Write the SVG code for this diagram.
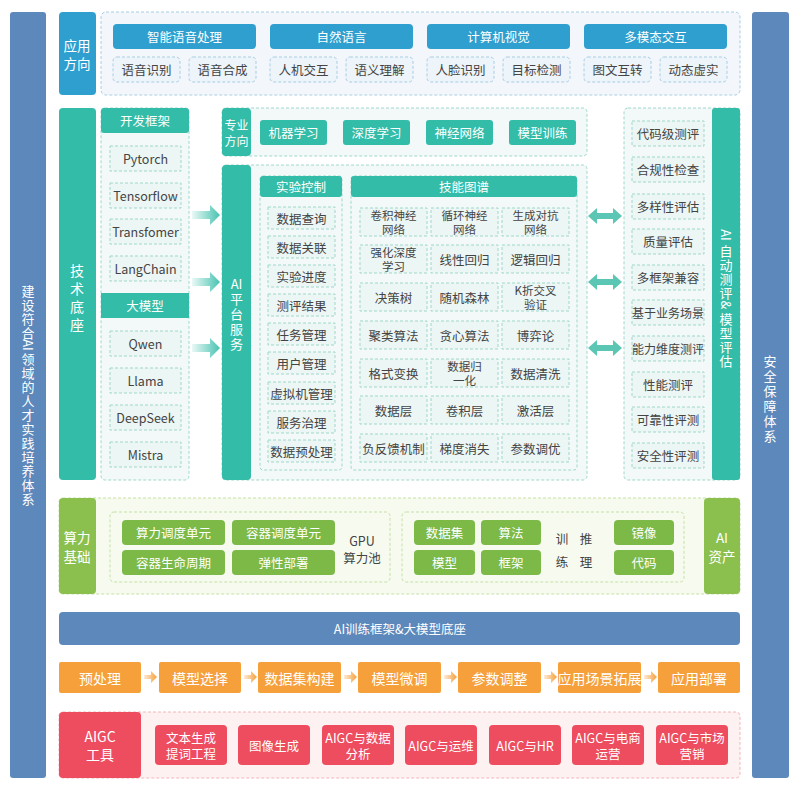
<svg xmlns="http://www.w3.org/2000/svg" width="800" height="797" viewBox="0 0 800 797">
<defs>
<style>
text{font-family:"Noto Sans CJK SC","Noto Sans",sans-serif;font-size:12.5px;text-anchor:middle;dominant-baseline:central}
.w{fill:#fff}.d{fill:#444}
.bl{fill:#2e9fcf}.tl{fill:#33bca8}.gr{fill:#8cc04e}.gi{fill:#7cb947}.or{fill:#f6a03b}.rd{fill:#ee4c5f}.bb{fill:#5d88bb}
.cb{fill:#f3f7fb;stroke:#a8cde4;stroke-dasharray:3 2}
.sb{fill:#edf4fa;stroke:#a8cde4;stroke-dasharray:3 2}
.ct{fill:#f2f9f8;stroke:#9fd8cc;stroke-dasharray:3 2}
.st{fill:#ecf6f4;stroke:#9fd8cc;stroke-dasharray:3 2}
.cg{fill:#f6faef;stroke:#c6e1a6;stroke-dasharray:3 2}
.cr{fill:#fdf1f1;stroke:#f4b5bc;stroke-dasharray:3 2}
.s2{font-size:11.5px}
</style>
<linearGradient id="ga" x1="0" x2="1"><stop offset="0" stop-color="#33bca8" stop-opacity="0.1"/><stop offset="1" stop-color="#33bca8" stop-opacity="0.9"/></linearGradient>
<linearGradient id="go" x1="0" x2="1"><stop offset="0" stop-color="#f6a03b" stop-opacity="0.2"/><stop offset="1" stop-color="#f6a03b"/></linearGradient>
</defs>
<rect width="800" height="797" fill="#fff"/>
<g id="left-bar"><rect x="10" y="12" width="36" height="766" rx="3" class="bb"/>
<g class="w" style="font-size:13px">
<text x="28" y="290" style="font-size:13px">建</text><text x="28" y="304" style="font-size:13px">设</text><text x="28" y="318" style="font-size:13px">符</text><text x="28" y="332" style="font-size:13px">合</text>
<text x="28" y="345" transform="rotate(90 28 345)" style="font-size:13px">AI</text>
<text x="28" y="358" style="font-size:13px">领</text><text x="28" y="372" style="font-size:13px">域</text><text x="28" y="386" style="font-size:13px">的</text><text x="28" y="400" style="font-size:13px">人</text>
<text x="28" y="414" style="font-size:13px">才</text><text x="28" y="428" style="font-size:13px">实</text><text x="28" y="442" style="font-size:13px">践</text><text x="28" y="456" style="font-size:13px">培</text>
<text x="28" y="470" style="font-size:13px">养</text><text x="28" y="484" style="font-size:13px">体</text><text x="28" y="498" style="font-size:13px">系</text>
</g></g>
<g id="right-bar"><rect x="752" y="12" width="37" height="766" rx="3" class="bb"/>
<g class="w">
<text x="770" y="360" style="font-size:13px">安</text><text x="770" y="375" style="font-size:13px">全</text><text x="770" y="390" style="font-size:13px">保</text>
<text x="770" y="405" style="font-size:13px">障</text><text x="770" y="420" style="font-size:13px">体</text><text x="770" y="435" style="font-size:13px">系</text>
</g></g>

<g id="app">
<rect x="59" y="12" width="37" height="83" rx="4" class="bl"/>
<text class="w" x="77" y="45" style="font-size:13.5px">应用</text><text class="w" x="77" y="63" style="font-size:13.5px">方向</text>
<rect x="101" y="12" width="639" height="83" rx="5" class="cb"/>
<g><rect x="113" y="24" width="143" height="25" rx="4" class="bl"/><text class="w" x="184.5" y="36.5">智能语音处理</text>
<rect x="113" y="57" width="67" height="25" rx="4" class="sb"/><text class="d" x="146.5" y="69.5">语音识别</text>
<rect x="189" y="57" width="67" height="25" rx="4" class="sb"/><text class="d" x="222.5" y="69.5">语音合成</text></g>
<g><rect x="270" y="24" width="143" height="25" rx="4" class="bl"/><text class="w" x="341.5" y="36.5">自然语言</text>
<rect x="270" y="57" width="67" height="25" rx="4" class="sb"/><text class="d" x="303.5" y="69.5">人机交互</text>
<rect x="346" y="57" width="67" height="25" rx="4" class="sb"/><text class="d" x="379.5" y="69.5">语义理解</text></g>
<g><rect x="427" y="24" width="143" height="25" rx="4" class="bl"/><text class="w" x="498.5" y="36.5">计算机视觉</text>
<rect x="427" y="57" width="67" height="25" rx="4" class="sb"/><text class="d" x="460.5" y="69.5">人脸识别</text>
<rect x="503" y="57" width="67" height="25" rx="4" class="sb"/><text class="d" x="536.5" y="69.5">目标检测</text></g>
<g><rect x="584" y="24" width="143" height="25" rx="4" class="bl"/><text class="w" x="655.5" y="36.5">多模态交互</text>
<rect x="584" y="57" width="67" height="25" rx="4" class="sb"/><text class="d" x="617.5" y="69.5">图文互转</text>
<rect x="660" y="57" width="67" height="25" rx="4" class="sb"/><text class="d" x="693.5" y="69.5">动态虚实</text></g>
</g>

<g id="tech">
<rect x="59" y="108" width="37" height="372" rx="4" class="tl"/>
<text class="w" x="77" y="270" style="font-size:14px">技</text><text class="w" x="77" y="288" style="font-size:14px">术</text>
<text class="w" x="77" y="306" style="font-size:14px">底</text><text class="w" x="77" y="324" style="font-size:14px">座</text>
<rect x="101" y="108" width="88" height="372" rx="4" class="ct"/>
<rect x="101" y="108" width="88" height="25" rx="3" class="tl"/><text class="w" x="145" y="120.5">开发框架</text>
<rect x="110" y="146" width="71" height="25" class="st"/><text class="d" x="145.5" y="158.5">Pytorch</text>
<rect x="110" y="183" width="71" height="25" class="st"/><text class="d" x="145.5" y="195.5">Tensorflow</text>
<rect x="110" y="219" width="71" height="25" class="st"/><text class="d" x="145.5" y="231.5">Transfomer</text>
<rect x="110" y="256" width="71" height="25" class="st"/><text class="d" x="145.5" y="268.5">LangChain</text>
<rect x="101" y="293" width="88" height="25" class="tl"/><text class="w" x="145" y="305.5">大模型</text>
<rect x="110" y="331" width="71" height="25" class="st"/><text class="d" x="145.5" y="343.5">Qwen</text>
<rect x="110" y="368" width="71" height="25" class="st"/><text class="d" x="145.5" y="380.5">Llama</text>
<rect x="110" y="405" width="71" height="25" class="st"/><text class="d" x="145.5" y="417.5">DeepSeek</text>
<rect x="110" y="442" width="71" height="25" class="st"/><text class="d" x="145.5" y="454.5">Mistra</text>
</g>

<g id="major">
<rect x="222" y="108" width="365" height="48" rx="4" class="ct"/>
<rect x="222" y="108" width="29" height="48" rx="4" class="tl"/>
<text class="w" x="236.5" y="124" style="font-size:12px">专业</text><text class="w" x="236.5" y="140" style="font-size:12px">方向</text>
<rect x="260" y="120" width="67" height="25" rx="3" class="tl"/><text class="w" x="293.5" y="132.5">机器学习</text>
<rect x="343" y="120" width="67" height="25" rx="3" class="tl"/><text class="w" x="376.5" y="132.5">深度学习</text>
<rect x="426" y="120" width="67" height="25" rx="3" class="tl"/><text class="w" x="459.5" y="132.5">神经网络</text>
<rect x="509" y="120" width="67" height="25" rx="3" class="tl"/><text class="w" x="542.5" y="132.5">模型训练</text>
</g>

<g id="platform">
<rect x="222" y="165" width="365" height="315" rx="4" class="ct"/>
<rect x="222" y="165" width="29" height="315" rx="4" class="tl"/>
<text class="w" x="236.5" y="283" style="font-size:13px">AI</text>
<text class="w" x="236.5" y="298" style="font-size:13px">平</text><text class="w" x="236.5" y="313" style="font-size:13px">台</text>
<text class="w" x="236.5" y="328" style="font-size:13px">服</text><text class="w" x="236.5" y="343" style="font-size:13px">务</text>
<rect x="260" y="176" width="82" height="294" rx="3" class="ct"/>
<rect x="260" y="176" width="82" height="21" rx="3" class="tl"/><text class="w" x="301" y="186.5">实验控制</text>
<g class="st">
<rect x="268" y="207" width="67" height="22"/><rect x="268" y="236" width="67" height="22"/><rect x="268" y="265" width="67" height="22"/>
<rect x="268" y="294" width="67" height="22"/><rect x="268" y="323" width="67" height="22"/><rect x="268" y="352" width="67" height="22"/>
<rect x="268" y="382" width="67" height="22"/><rect x="268" y="411" width="67" height="22"/><rect x="268" y="440" width="67" height="22"/>
</g>
<g class="d">
<text x="301.5" y="218">数据查询</text><text x="301.5" y="247">数据关联</text><text x="301.5" y="276">实验进度</text>
<text x="301.5" y="305">测评结果</text><text x="301.5" y="334">任务管理</text><text x="301.5" y="363">用户管理</text>
<text x="301.5" y="393">虚拟机管理</text><text x="301.5" y="422">服务治理</text><text x="301.5" y="451">数据预处理</text>
</g>
<rect x="351" y="176" width="226" height="294" rx="3" class="ct"/>
<rect x="351" y="176" width="226" height="21" rx="3" class="tl"/><text class="w" x="464" y="186.5">技能图谱</text>
<g class="st">
<rect x="360" y="208" width="67" height="28"/><rect x="431" y="208" width="67" height="28"/><rect x="502" y="208" width="67" height="28"/>
<rect x="360" y="245" width="67" height="28"/><rect x="431" y="245" width="67" height="28"/><rect x="502" y="245" width="67" height="28"/>
<rect x="360" y="283" width="67" height="28"/><rect x="431" y="283" width="67" height="28"/><rect x="502" y="283" width="67" height="28"/>
<rect x="360" y="321" width="67" height="28"/><rect x="431" y="321" width="67" height="28"/><rect x="502" y="321" width="67" height="28"/>
<rect x="360" y="359" width="67" height="28"/><rect x="431" y="359" width="67" height="28"/><rect x="502" y="359" width="67" height="28"/>
<rect x="360" y="396" width="67" height="28"/><rect x="431" y="396" width="67" height="28"/><rect x="502" y="396" width="67" height="28"/>
<rect x="360" y="434" width="67" height="28"/><rect x="431" y="434" width="67" height="28"/><rect x="502" y="434" width="67" height="28"/>
</g>
<g class="d">
<text class="s2" x="393.5" y="215">卷积神经</text><text class="s2" x="393.5" y="229">网络</text>
<text class="s2" x="464.5" y="215">循环神经</text><text class="s2" x="464.5" y="229">网络</text>
<text class="s2" x="535.5" y="215">生成对抗</text><text class="s2" x="535.5" y="229">网络</text>
<text class="s2" x="393.5" y="252">强化深度</text><text class="s2" x="393.5" y="266">学习</text>
<text x="464.5" y="259">线性回归</text><text x="535.5" y="259">逻辑回归</text>
<text x="393.5" y="297">决策树</text><text x="464.5" y="297">随机森林</text>
<text class="s2" x="535.5" y="290">K折交叉</text><text class="s2" x="535.5" y="304">验证</text>
<text x="393.5" y="335">聚类算法</text><text x="464.5" y="335">贪心算法</text><text x="535.5" y="335">博弈论</text>
<text x="393.5" y="373">格式变换</text>
<text class="s2" x="464.5" y="366">数据归</text><text class="s2" x="464.5" y="380">一化</text>
<text x="535.5" y="373">数据清洗</text>
<text x="393.5" y="410">数据层</text><text x="464.5" y="410">卷积层</text><text x="535.5" y="410">激活层</text>
<text x="393.5" y="448">负反馈机制</text><text x="464.5" y="448">梯度消失</text><text x="535.5" y="448">参数调优</text>
</g>
</g>

<g id="eval">
<rect x="624" y="108" width="116" height="372" rx="4" class="ct"/>
<rect x="712" y="108" width="28" height="372" rx="3" class="tl"/>
<g class="w">
<text x="726" y="235" transform="rotate(90 726 235)" style="font-size:13px">AI</text>
<text x="726" y="250" style="font-size:13px">自</text><text x="726" y="264" style="font-size:13px">动</text><text x="726" y="278" style="font-size:13px">测</text>
<text x="726" y="292" style="font-size:13px">评</text><text x="726" y="305" transform="rotate(90 726 305)" style="font-size:13px">&amp;</text>
<text x="726" y="318" style="font-size:13px">模</text><text x="726" y="332" style="font-size:13px">型</text><text x="726" y="346" style="font-size:13px">评</text>
<text x="726" y="360" style="font-size:13px">估</text>
</g>
<g class="st">
<rect x="632" y="121" width="72" height="25"/><rect x="632" y="157" width="72" height="25"/><rect x="632" y="194" width="72" height="25"/>
<rect x="632" y="229" width="72" height="25"/><rect x="632" y="265" width="72" height="25"/><rect x="632" y="300" width="72" height="25"/>
<rect x="632" y="336" width="72" height="25"/><rect x="632" y="372" width="72" height="25"/><rect x="632" y="407" width="72" height="25"/>
<rect x="632" y="443" width="72" height="25"/>
</g>
<g class="d">
<text x="668" y="133.5">代码级测评</text><text x="668" y="169.5">合规性检查</text><text x="668" y="206.5">多样性评估</text>
<text x="668" y="241.5">质量评估</text><text x="668" y="277.5">多框架兼容</text><text x="668" y="312.5" style="font-size:12px">基于业务场景</text>
<text x="668" y="348.5" style="font-size:12px">能力维度测评</text><text x="668" y="384.5">性能测评</text><text x="668" y="419.5">可靠性评测</text>
<text x="668" y="455.5">安全性评测</text>
</g>
</g>

<g id="connectors">
<g fill="url(#ga)">
<path d="M192 211h18v-6l10 10-10 10v-6h-18z"/>
<path d="M192 278h18v-6l10 10-10 10v-6h-18z"/>
<path d="M192 344h18v-6l10 10-10 10v-6h-18z"/>
</g>
<g fill="#5cc6b4">
<path d="M588 216l9-8v5h16v-5l9 8-9 8v-5h-16v5z"/>
<path d="M588 282l9-8v5h16v-5l9 8-9 8v-5h-16v5z"/>
<path d="M588 348l9-8v5h16v-5l9 8-9 8v-5h-16v5z"/>
</g>
<g fill="url(#go)">
<path d="M144 675h7v-4l6 6-6 6v-4h-7z"/>
<path d="M244 675h7v-4l6 6-6 6v-4h-7z"/>
<path d="M344 675h7v-4l6 6-6 6v-4h-7z"/>
<path d="M444 675h7v-4l6 6-6 6v-4h-7z"/>
<path d="M544 675h7v-4l6 6-6 6v-4h-7z"/>
<path d="M644 675h7v-4l6 6-6 6v-4h-7z"/>
</g>
</g>

<g id="compute">
<rect x="59" y="498" width="681" height="96" rx="4" class="cg"/>
<rect x="59" y="498" width="37" height="96" rx="4" class="gr"/>
<text class="w" x="77" y="537" style="font-size:13.5px">算力</text><text class="w" x="77" y="556" style="font-size:13.5px">基础</text>
<rect x="704" y="498" width="36" height="96" rx="4" class="gr"/>
<text class="w" x="722" y="537" style="font-size:13.5px">AI</text><text class="w" x="722" y="556" style="font-size:13.5px">资产</text>
<rect x="110" y="512" width="280" height="70" rx="4" class="cg"/>
<rect x="122" y="520" width="103" height="25" rx="4" class="gi"/><text class="w" x="173.5" y="532.5">算力调度单元</text>
<rect x="232" y="520" width="103" height="25" rx="4" class="gi"/><text class="w" x="283.5" y="532.5">容器调度单元</text>
<rect x="122" y="550" width="103" height="25" rx="4" class="gi"/><text class="w" x="173.5" y="562.5">容器生命周期</text>
<rect x="232" y="550" width="103" height="25" rx="4" class="gi"/><text class="w" x="283.5" y="562.5">弹性部署</text>
<text class="d" x="362" y="540">GPU</text><text class="d" x="362" y="557">算力池</text>
<rect x="402" y="512" width="282" height="70" rx="4" class="cg"/>
<rect x="414" y="520" width="61" height="25" rx="4" class="gi"/><text class="w" x="444.5" y="532.5">数据集</text>
<rect x="481" y="520" width="60" height="25" rx="4" class="gi"/><text class="w" x="511" y="532.5">算法</text>
<rect x="414" y="550" width="61" height="25" rx="4" class="gi"/><text class="w" x="444.5" y="562.5">模型</text>
<rect x="481" y="550" width="60" height="25" rx="4" class="gi"/><text class="w" x="511" y="562.5">框架</text>
<text class="d" x="562" y="538">训</text><text class="d" x="562" y="561">练</text>
<text class="d" x="586" y="538">推</text><text class="d" x="586" y="561">理</text>
<rect x="614" y="520" width="60" height="25" rx="4" class="gi"/><text class="w" x="644" y="532.5">镜像</text>
<rect x="614" y="550" width="60" height="25" rx="4" class="gi"/><text class="w" x="644" y="562.5">代码</text>
</g>

<g id="base-bar"><rect x="59" y="612" width="681" height="33" rx="4" class="bb"/>
<text class="w" x="400" y="628.5">AI训练框架&amp;大模型底座</text></g>

<g id="pipeline">
<rect x="59" y="662" width="82" height="31" rx="2" class="or"/><text class="w" x="100" y="677.5" style="font-size:14px">预处理</text>
<rect x="159" y="662" width="82" height="31" rx="2" class="or"/><text class="w" x="200" y="677.5" style="font-size:14px">模型选择</text>
<rect x="258" y="662" width="83" height="31" rx="2" class="or"/><text class="w" x="299.5" y="677.5" style="font-size:14px">数据集构建</text>
<rect x="358" y="662" width="83" height="31" rx="2" class="or"/><text class="w" x="399.5" y="677.5" style="font-size:14px">模型微调</text>
<rect x="458" y="662" width="83" height="31" rx="2" class="or"/><text class="w" x="499.5" y="677.5" style="font-size:14px">参数调整</text>
<rect x="558" y="662" width="83" height="31" rx="2" class="or"/><text class="w" x="599.5" y="677.5" style="font-size:14px">应用场景拓展</text>
<rect x="658" y="662" width="82" height="31" rx="2" class="or"/><text class="w" x="699" y="677.5" style="font-size:14px">应用部署</text>
</g>

<g id="aigc">
<rect x="59" y="712" width="681" height="66" rx="4" class="cr"/>
<rect x="59" y="712" width="82" height="66" rx="4" class="rd"/>
<text class="w" x="100" y="736" style="font-size:14px">AIGC</text><text class="w" x="100" y="754" style="font-size:14px">工具</text>
<rect x="155" y="725" width="72" height="40" rx="4" class="rd"/><text class="w" x="191" y="737">文本生成</text><text class="w" x="191" y="753">提词工程</text>
<rect x="238" y="725" width="72" height="40" rx="4" class="rd"/><text class="w" x="274" y="745">图像生成</text>
<rect x="322" y="725" width="72" height="40" rx="4" class="rd"/><text class="w" x="358" y="737">AIGC与数据</text><text class="w" x="358" y="753">分析</text>
<rect x="405" y="725" width="72" height="40" rx="4" class="rd"/><text class="w" x="441" y="745">AIGC与运维</text>
<rect x="489" y="725" width="72" height="40" rx="4" class="rd"/><text class="w" x="525" y="745">AIGC与HR</text>
<rect x="572" y="725" width="72" height="40" rx="4" class="rd"/><text class="w" x="608" y="737">AIGC与电商</text><text class="w" x="608" y="753">运营</text>
<rect x="656" y="725" width="72" height="40" rx="4" class="rd"/><text class="w" x="692" y="737">AIGC与市场</text><text class="w" x="692" y="753">营销</text>
</g>
</svg>
